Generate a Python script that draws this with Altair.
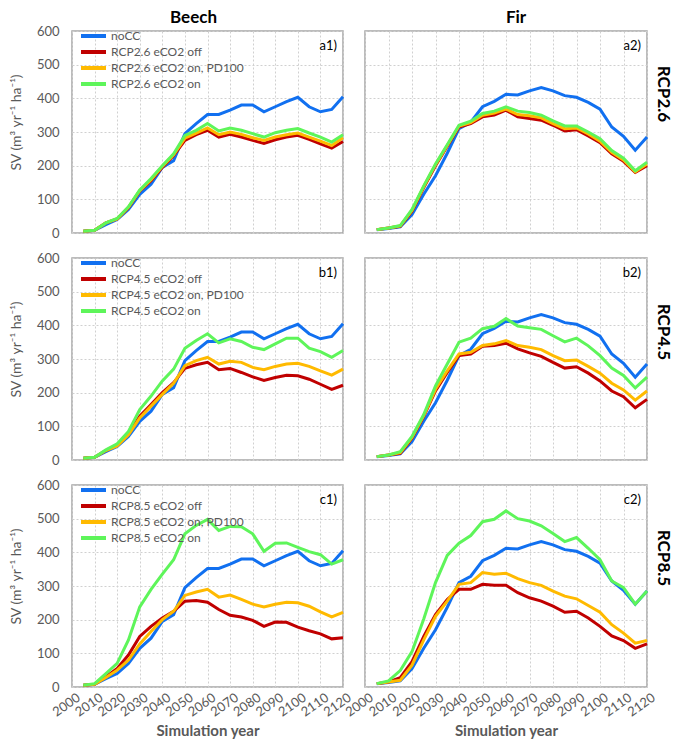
import altair as alt
import pandas as pd

# ---------------- data ----------------
years = [2005, 2010, 2015, 2020, 2025, 2030, 2035, 2040, 2045, 2050, 2055, 2060,
         2065, 2070, 2075, 2080, 2085, 2090, 2095, 2100, 2105, 2110, 2115, 2120]
x_ticks = [2000, 2010, 2020, 2030, 2040, 2050, 2060, 2070, 2080, 2090, 2100, 2110, 2120]
y_ticks = [0, 100, 200, 300, 400, 500, 600]

beech_nocc = [5, 8, 25, 40, 70, 115, 145, 195, 215, 295, 325, 352, 352, 365, 380, 380, 360, 375, 390, 403, 375, 360, 367, 405]
beech_26_off = [5, 8, 30, 42, 75, 125, 155, 195, 230, 275, 292, 305, 285, 293, 285, 275, 266, 277, 285, 290, 278, 265, 252, 272]
beech_26_pd = [5, 8, 30, 42, 76, 126, 158, 198, 232, 282, 297, 312, 292, 300, 293, 283, 275, 285, 292, 297, 285, 273, 260, 283]
beech_26_on = [5, 8, 30, 43, 78, 128, 162, 200, 235, 290, 305, 325, 303, 312, 305, 295, 285, 298, 305, 310, 297, 285, 270, 292]

beech_45_off = [5, 8, 28, 45, 78, 130, 165, 200, 230, 272, 283, 290, 268, 272, 260, 247, 236, 245, 252, 250, 240, 225, 210, 222]
beech_45_pd = [5, 8, 28, 42, 75, 125, 160, 195, 228, 280, 295, 305, 285, 293, 290, 275, 268, 278, 285, 287, 278, 265, 252, 270]
beech_45_on = [5, 8, 30, 48, 85, 150, 190, 235, 270, 332, 355, 375, 348, 360, 352, 335, 328, 345, 362, 362, 332, 322, 305, 325]

beech_85_off = [5, 8, 30, 55, 95, 150, 180, 205, 225, 255, 257, 252, 230, 213, 208, 198, 180, 193, 192, 178, 167, 158, 143, 146]
beech_85_pd = [5, 8, 28, 50, 80, 128, 165, 200, 225, 272, 282, 290, 267, 273, 260, 246, 238, 246, 252, 250, 240, 223, 208, 222]
beech_85_on = [5, 10, 40, 70, 140, 238, 290, 335, 378, 455, 480, 498, 465, 477, 476, 455, 403, 427, 428, 415, 402, 393, 365, 378]

fir_nocc = [10, 13, 18, 55, 115, 170, 237, 310, 329, 375, 391, 412, 410, 422, 432, 422, 408, 403, 388, 368, 315, 287, 246, 285]
fir_26_off = [10, 15, 20, 65, 135, 200, 258, 315, 325, 345, 350, 365, 345, 340, 335, 320, 303, 307, 288, 268, 235, 213, 180, 200]
fir_26_pd = [10, 15, 21, 67, 138, 203, 260, 318, 328, 350, 356, 368, 352, 348, 342, 325, 310, 312, 294, 273, 240, 217, 182, 205]
fir_26_on = [10, 15, 22, 70, 140, 205, 262, 320, 332, 355, 362, 375, 362, 358, 350, 333, 318, 318, 300, 280, 245, 222, 185, 210]

fir_45_off = [10, 15, 20, 65, 130, 205, 260, 310, 315, 338, 340, 347, 330, 318, 308, 290, 273, 277, 258, 235, 205, 188, 155, 180]
fir_45_pd = [10, 15, 22, 67, 132, 210, 265, 315, 320, 340, 345, 355, 340, 335, 328, 310, 295, 297, 278, 258, 228, 208, 178, 205]
fir_45_on = [10, 15, 25, 70, 135, 220, 285, 350, 362, 390, 397, 420, 398, 393, 388, 369, 351, 362, 339, 310, 273, 251, 214, 246]

fir_85_off = [10, 15, 28, 75, 150, 215, 260, 290, 290, 305, 302, 302, 280, 265, 255, 240, 222, 225, 205, 180, 152, 138, 115, 128]
fir_85_pd = [10, 15, 20, 65, 140, 210, 255, 305, 310, 340, 335, 338, 322, 310, 302, 285, 270, 262, 242, 222, 185, 160, 130, 138]
fir_85_on = [10, 18, 49, 105, 202, 310, 391, 427, 450, 491, 498, 523, 500, 493, 479, 456, 432, 444, 412, 378, 315, 295, 246, 285]

# ---------------- style ----------------
FONT = "Lato"
GRAY = "#595959"
COLORS = ["#1170f0", "#c00000", "#ffba00", "#5ef55a"]
LW, RW, H = 271, 282, 202
Y_TITLE = "SV (m³ yr⁻¹ ha⁻¹)"


def text_layer(txt, x, y, **kw):
    return alt.Chart(pd.DataFrame({"t": [txt]})).mark_text(font=FONT, **kw).encode(
        text="t:N", x=alt.value(x), y=alt.value(y))


def panel(series, rcp, tag, left, bottom, col_title=None, row_title_y=None):
    names = ["noCC", f"RCP{rcp} eCO2 off", f"RCP{rcp} eCO2 on, PD100", f"RCP{rcp} eCO2 on"]
    rows = []
    for k, (n, vals) in enumerate(zip(names, series)):
        for yr, v in zip(years, vals):
            rows.append({"year": yr, "sv": v, "series": n, "k": k})
    df = pd.DataFrame(rows)
    w = LW if left else RW

    xaxis = alt.Axis(
        values=x_ticks, format="d", grid=True, gridDash=[2, 2], gridColor="#d0d0d0",
        domain=False, ticks=False, tickSize=0, labels=bottom,
        labelAngle=-35, labelFont=FONT, labelFontSize=13, labelColor=GRAY, labelPadding=4,
        labelOffset=3, labelOverlap=False, labelFlush=False,
        title="Simulation year" if bottom else None,
        titleFont=FONT, titleFontSize=15, titleFontWeight="bold", titleColor=GRAY, titlePadding=5,
    )
    yaxis = alt.Axis(
        values=y_ticks, grid=True, gridDash=[2, 2], gridColor="#d0d0d0",
        domain=False, ticks=False, tickSize=0, labels=left,
        labelFont=FONT, labelFontSize=13, labelColor=GRAY, labelPadding=13,
        title=Y_TITLE if left else None, titleY=H / 2 - 10,
        titleFont=FONT, titleFontSize=14, titleFontWeight="normal", titleColor=GRAY, titlePadding=13,
    )
    if left:
        legend = alt.Legend(
            orient="none", legendX=7, legendY=-3, title=None, symbolType="stroke",
            symbolSize=625, symbolStrokeWidth=4, clipHeight=16, rowPadding=0, padding=0,
            labelFont=FONT, labelFontSize=12, labelColor=GRAY, labelOffset=3,
        )
    else:
        legend = None

    lines = alt.Chart(df).mark_line(strokeWidth=3).encode(
        x=alt.X("year:Q", scale=alt.Scale(domain=[2000, 2120], nice=False, zero=False), axis=xaxis),
        y=alt.Y("sv:Q", scale=alt.Scale(domain=[0, 600], nice=False), axis=yaxis),
        color=alt.Color("series:N", scale=alt.Scale(domain=names, range=COLORS), sort=names, legend=legend),
        order=alt.Order("year:Q"),
    )
    layers = [lines,
              text_layer(tag, w - 6, 9, align="right", baseline="top", fontSize=13, color="black")]
    if row_title_y is not None:
        layers.append(text_layer(f"RCP{rcp}", w + 16, row_title_y, align="center", baseline="middle",
                                 angle=90, fontSize=17, fontWeight="bold", color="black"))
    if col_title:
        layers.append(text_layer(col_title, w / 2 + (-14 if left else 10), -13, align="center",
                                 baseline="middle", fontSize=17, fontWeight="bold", color="black"))

    return alt.layer(*layers).resolve_scale(color="independent").properties(width=w, height=H)


panels = [
    panel([beech_nocc, beech_26_off, beech_26_pd, beech_26_on], "2.6", "a1)", True, False, "Beech"),
    panel([fir_nocc, fir_26_off, fir_26_pd, fir_26_on], "2.6", "a2)", False, False, "Fir", 63),
    panel([beech_nocc, beech_45_off, beech_45_pd, beech_45_on], "4.5", "b1)", True, False),
    panel([fir_nocc, fir_45_off, fir_45_pd, fir_45_on], "4.5", "b2)", False, False, None, 74),
    panel([beech_nocc, beech_85_off, beech_85_pd, beech_85_on], "8.5", "c1)", True, True),
    panel([fir_nocc, fir_85_off, fir_85_pd, fir_85_on], "8.5", "c2)", False, True, None, 73),
]

chart = alt.concat(
    *panels, columns=2, spacing=alt.RowColnumber(row=25, column=22), bounds="flush"
).resolve_scale(color="independent").properties(
    padding={"left": 0, "top": 0, "right": 2, "bottom": 0}
).configure_view(stroke="#a6a6a6", strokeWidth=1.5)

chart.save("out.html", embed_options={"renderer": "svg", "actions": False})
